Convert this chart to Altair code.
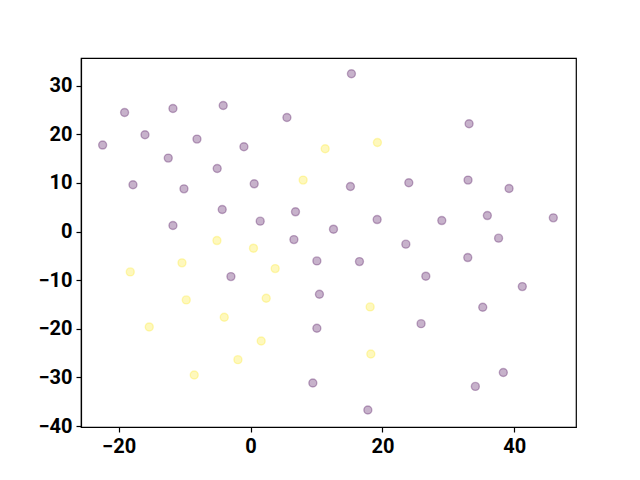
import altair as alt
import pandas as pd

purple_x = [-19.09, -11.76, -4.14, 5.52, -22.42, -16.0, -8.12, -1.0, -12.47, -5.05,
            -17.82, -10.09, 0.56, -4.29, 6.82, 1.47, -11.76, 6.58, -2.97, 15.30,
            33.14, 15.15, 24.0, 32.98, 39.20, 12.58, 19.20, 29.0, 35.91, 45.91,
            23.55, 37.61, 10.06, 16.52, 32.94, 26.58, 41.21, 10.45, 35.21, 25.86,
            10.06, 38.33, 9.45, 34.09, 17.79]
purple_y = [24.50, 25.32, 25.94, 23.47, 17.79, 19.91, 19.02, 17.44, 15.11, 12.97,
            9.62, 8.79, 9.82, 4.53, 4.06, 2.14, 1.24, -1.65, -9.26, 32.47,
            22.17, 9.26, 10.03, 10.58, 8.85, 0.49, 2.47, 2.26, 3.29, 2.82,
            -2.59, -1.36, -6.03, -6.18, -5.35, -9.18, -11.32, -12.89, -15.57, -18.94,
            -19.89, -29.0, -31.15, -31.85, -36.71]
yellow_x = [11.32, 19.24, 7.98, 18.14, 18.24, -5.09, 0.45, -10.39, -18.23, 3.74,
            -9.74, 2.38, -3.98, -15.35, 1.62, -1.91, -8.53]
yellow_y = [17.03, 18.32, 10.58, -15.50, -25.18, -1.85, -3.42, -6.44, -8.30, -7.62,
            -14.06, -13.71, -17.62, -19.62, -22.50, -26.35, -29.50]

df = pd.DataFrame({
    "x": purple_x + yellow_x,
    "y": purple_y + yellow_y,
    "c": ["a"] * len(purple_x) + ["b"] * len(yellow_x),
})

font = "Roboto"
pal = alt.Scale(domain=["a", "b"], range=["#440154", "#fde725"])
chart = alt.Chart(df).mark_point(
    shape="circle", filled=True, size=64, fillOpacity=0.3, strokeOpacity=0.3, strokeWidth=1.4,
).encode(
    x=alt.X("x:Q", scale=alt.Scale(domain=[-25.7, 49.35], nice=False, zero=False),
            axis=alt.Axis(values=[-20, 0, 20, 40], title=None, grid=False)),
    y=alt.Y("y:Q", scale=alt.Scale(domain=[-40.2, 35.7], nice=False, zero=False),
            axis=alt.Axis(values=[-40, -30, -20, -10, 0, 10, 20, 30], title=None, grid=False)),
    fill=alt.Fill("c:N", scale=pal, legend=None),
    stroke=alt.Stroke("c:N", scale=pal, legend=None),
).properties(
    width=495, height=369,
    autosize=alt.AutoSizeParams(type="none"),
    padding={"left": 73, "top": 50, "right": 56, "bottom": 45},
).configure_view(
    stroke="black", strokeWidth=1.2,
).configure_axis(
    domainColor="black", domainWidth=1.2, tickColor="black", tickWidth=1.2, tickSize=5,
    labelFont=font, labelFontSize=20, labelFontWeight="bold", labelColor="black",
    labelPadding=4,
)

chart.save("out.html", embed_options={"renderer": "svg", "actions": False})
